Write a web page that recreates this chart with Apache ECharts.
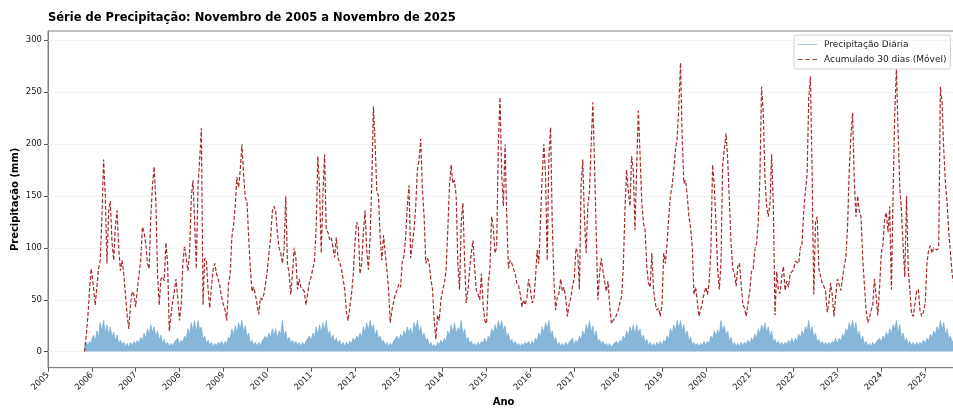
<!DOCTYPE html>
<html><head><meta charset="utf-8">
<script src="https://cdn.jsdelivr.net/npm/echarts@6/dist/echarts.min.js"></script>
<style>html,body{margin:0;padding:0;background:#fff}#c{width:953px;height:409px}</style>
</head><body><div id="c"></div>
<script>
// 30-day rolling sum (mm), sampled every 14 days from the first date of each year's array
const acc2005 = [0,15,34,60,80];
const acc2006 = [75,62,45,62,80,88,130,185,150,85,135,145,105,88,120,136,100,78,88,75,55,35,22,45,58,55];
const acc2007 = [43,60,74,88,120,115,104,85,80,130,160,178,145,75,45,70,72,68,105,85,20,35,48,58,70,52];
const acc2008 = [30,45,85,102,90,78,95,148,165,125,80,160,185,215,45,90,88,60,42,62,79,85,75,70,63,53];
const acc2009 = [45,40,30,65,75,110,122,140,168,158,175,200,170,148,145,110,80,58,62,55,54,36,52,50,55,65];
const acc2010 = [78,95,110,135,140,136,115,100,95,85,100,150,85,75,55,75,100,90,60,70,62,60,58,45,56,66];
const acc2011 = [72,80,87,120,188,158,95,150,190,117,115,108,110,100,91,110,90,86,80,70,60,38,30,30,55,72];
const acc2012 = [105,125,120,75,85,115,136,98,79,110,162,236,200,155,150,110,88,112,95,79,60,28,40,48,55,59];
const acc2013 = [65,62,87,92,110,140,160,90,90,117,140,175,185,205,155,130,85,90,85,70,60,30,12,35,30,50];
const acc2014 = [60,66,79,117,160,180,162,165,150,85,60,125,143,88,47,59,79,95,107,80,59,55,50,75,45,30];
const acc2015 = [27,66,80,130,120,95,100,200,245,170,140,200,130,80,88,85,80,75,66,64,56,43,50,45,52,70];
const acc2016 = [60,47,50,70,98,85,85,168,200,171,88,188,216,124,68,40,53,56,70,58,62,52,34,45,52,62];
const acc2017 = [72,100,95,60,160,185,128,95,140,155,200,240,180,115,50,75,90,78,68,58,68,45,27,30,32,35];
const acc2018 = [40,47,53,79,135,175,155,140,188,175,117,180,232,190,145,124,117,82,66,62,95,60,47,40,42,34];
const acc2019 = [45,95,85,104,130,150,160,175,195,205,236,278,205,162,165,150,130,120,100,55,62,48,34,33,47,56];
const acc2020 = [62,55,68,98,180,160,124,80,60,85,180,195,210,185,145,104,80,75,63,82,85,66,45,42,34,35];
const acc2021 = [59,77,79,98,104,124,168,255,230,168,140,130,143,190,140,35,77,60,56,72,82,59,68,62,75,75];
const acc2022 = [79,87,88,85,100,104,135,155,171,245,265,170,55,125,130,80,80,66,63,58,38,47,66,54,34,53];
const acc2023 = [70,70,59,60,82,91,120,175,207,230,165,130,150,135,130,90,65,40,28,32,40,45,70,53,35,60];
const acc2024 = [95,104,128,134,115,140,60,150,230,272,210,158,135,101,72,150,80,59,36,34,34,58,60,40,34,38];
const acc2025 = [47,85,98,102,95,100,100,98,100,255,240,195,162,143,115,95,75,65,55,45,50,60];

// daily precipitation (mm), highest daily value read in each 14-day window
const daily2005 = [4,9,6,10,8];
const daily2006 = [12,16,10,20,14,28,20,30,18,26,16,24,14,19,10,16,8,11,7,9,5,8,4,9,6,10];
const daily2007 = [7,11,8,14,10,18,13,22,16,26,18,24,14,20,11,16,8,12,6,9,5,8,6,9,8,13];
const daily2008 = [7,11,9,15,12,22,16,28,20,30,18,30,20,24,12,15,8,11,6,9,5,8,6,9,7,10];
const daily2009 = [6,10,8,14,12,22,16,25,18,28,22,30,18,25,14,18,8,11,6,9,5,9,6,10,9,15];
const daily2010 = [12,18,14,22,15,22,13,20,17,30,15,20,10,14,8,11,7,10,6,9,5,9,6,10,9,15];
const daily2011 = [11,18,14,24,16,26,18,28,20,30,16,20,12,16,9,13,8,11,6,9,5,9,6,10,8,13];
const daily2012 = [10,15,12,18,14,24,18,28,20,30,22,26,15,21,12,15,9,11,6,9,5,8,6,10,9,15];
const daily2013 = [11,17,13,20,16,24,18,23,15,28,22,30,18,24,14,18,10,13,6,9,5,7,4,9,7,11];
const daily2014 = [8,13,10,20,15,26,18,28,17,23,20,30,16,22,11,14,8,10,6,8,5,9,6,10,8,13];
const daily2015 = [8,15,12,22,17,26,20,30,22,30,20,25,14,18,9,12,7,10,6,8,5,8,6,9,7,10];
const daily2016 = [6,10,7,13,10,18,14,24,18,28,22,30,16,20,10,14,6,9,5,8,5,9,6,9,8,13];
const daily2017 = [7,11,8,15,11,20,15,26,20,30,18,25,14,20,9,12,7,10,6,8,5,8,4,7,6,10];
const daily2018 = [7,11,9,15,12,20,15,24,18,26,16,26,18,22,12,16,9,12,6,9,5,8,5,9,6,10];
const daily2019 = [6,11,9,15,12,22,17,26,20,30,22,30,20,26,15,20,10,14,7,9,6,8,5,8,6,10];
const daily2020 = [6,10,8,15,12,20,15,21,16,30,20,25,15,20,10,14,6,9,5,8,5,9,6,9,7,11];
const daily2021 = [8,13,10,17,13,22,17,26,20,28,18,24,14,20,9,12,7,10,6,9,6,9,7,11,8,13];
const daily2022 = [8,13,10,17,13,20,16,24,20,30,18,24,13,18,9,12,7,10,6,9,6,9,7,10,8,13];
const daily2023 = [8,13,10,17,13,22,19,28,22,30,20,28,15,20,10,15,7,10,5,8,5,9,6,9,8,13];
const daily2024 = [9,15,12,19,14,22,17,26,22,30,18,26,13,18,9,13,7,10,6,9,5,9,6,9,7,11];
const daily2025 = [8,13,10,17,13,20,16,24,19,30,21,28,16,22,12,15,9,12,7,9,6,10];

const years = [2005,2006,2007,2008,2009,2010,2011,2012,2013,2014,2015,2016,2017,2018,2019,2020,2021,2022,2023,2024,2025];
const accByYear = [acc2005,acc2006,acc2007,acc2008,acc2009,acc2010,acc2011,acc2012,acc2013,acc2014,acc2015,acc2016,acc2017,acc2018,acc2019,acc2020,acc2021,acc2022,acc2023,acc2024,acc2025];
const dailyByYear = [daily2005,daily2006,daily2007,daily2008,daily2009,daily2010,daily2011,daily2012,daily2013,daily2014,daily2015,daily2016,daily2017,daily2018,daily2019,daily2020,daily2021,daily2022,daily2023,daily2024,daily2025];
const yTicks = [0,50,100,150,200,250,300];
const xTickYears = [2005,2006,2007,2008,2009,2010,2011,2012,2013,2014,2015,2016,2017,2018,2019,2020,2021,2022,2023,2024,2025];

const DAY = 86400000, STEP = 14;
function toSeries(arrs) {
  const out = [];
  arrs.forEach((arr, i) => {
    const y = years[i];
    const start = y === 2005 ? Date.UTC(2005, 10, 1) : Date.UTC(y, 0, 1);
    arr.forEach((v, k) => out.push([start + k * STEP * DAY, v]));
  });
  return out;
}
const accData = toSeries(accByYear);
const dailyData = toSeries(dailyByYear);
const xTickValues = xTickYears.map(y => Date.UTC(y, 0, 1));

const FONT = 'DejaVu Sans';
const BLUE_ICON = 'path://M0,0H20V1H0Z';
const DASH_ICON = 'path://M0,0H4.5V1H0Z M7,0H11.5V1H7Z M14,0H18.5V1H14Z';
const chart = echarts.init(document.getElementById('c'), null, {renderer: 'canvas'});
chart.setOption({
  animation: false,
  backgroundColor: '#fff',
  title: {
    text: 'Série de Precipitação: Novembro de 2005 a Novembro de 2025',
    left: 48, top: 12, padding: 0,
    textStyle: {fontFamily: FONT, fontWeight: 'bold', fontSize: 11.5, color: '#000'}
  },
  legend: {
    orient: 'vertical', left: 794, top: 35,
    backgroundColor: 'rgba(255,255,255,0.85)', borderColor: '#d0d0d0', borderWidth: 1, borderRadius: 3,
    padding: [4, 4, 4, 4], itemWidth: 19, itemHeight: 1.2, itemGap: 4,
    textStyle: {fontFamily: FONT, fontSize: 9, color: '#222', lineHeight: 11, padding: [0, 0, 0, 2]},
    data: [
      {name: 'Precipitação Diária', icon: BLUE_ICON, itemStyle: {color: '#a3c6e3'}},
      {name: 'Acumulado 30 dias (Móvel)', icon: DASH_ICON, itemStyle: {color: '#b04444'}}
    ]
  },
  grid: {left: 48, top: 31, width: 911, height: 336.7, show: true, borderColor: '#808080', borderWidth: 1,
         outerBoundsMode: 'none', containLabel: false},
  xAxis: {
    type: 'value',
    min: Date.UTC(2005, 0, 1), max: Date.UTC(2025, 9, 9),
    name: 'Ano', nameLocation: 'middle', nameGap: 30, nameMoveOverlap: false,
    nameTextStyle: {fontFamily: FONT, fontWeight: 'bold', fontSize: 10, color: '#000'},
    axisLine: {onZero: false, lineStyle: {color: '#808080', width: 1}},
    axisTick: {show: true, length: 4, lineStyle: {color: '#555'}, customValues: xTickValues},
    axisLabel: {
      customValues: xTickValues,
      formatter: v => String(new Date(v).getUTCFullYear()),
      rotate: 45, margin: 6, fontFamily: FONT, fontSize: 8.5, color: '#222'
    },
    splitLine: {show: false}
  },
  yAxis: {
    type: 'value', min: -15.4, max: 308.7,
    name: 'Precipitação (mm)', nameLocation: 'middle', nameGap: 28, nameRotate: 90, nameMoveOverlap: false,
    nameTextStyle: {fontFamily: FONT, fontWeight: 'bold', fontSize: 10, color: '#000'},
    axisLine: {show: true, lineStyle: {color: '#808080', width: 1}},
    axisTick: {show: true, length: 4, lineStyle: {color: '#555'}, customValues: yTicks},
    axisLabel: {customValues: yTicks, margin: 6, fontFamily: FONT, fontSize: 8.5, color: '#222'},
    splitLine: {show: false}
  },
  series: [
    {
      name: 'Precipitação Diária', type: 'line', data: dailyData,
      showSymbol: false, symbol: 'none', z: 2,
      lineStyle: {color: '#79acd2', width: 0.7},
      itemStyle: {color: '#79acd2'},
      areaStyle: {color: '#86b6d9', opacity: 1, origin: 0},
      markLine: {
        silent: true, symbol: ['none', 'none'], label: {show: false},
        lineStyle: {color: '#e6e6e6', type: 'dotted', width: 0.8},
        data: yTicks.map(v => ({yAxis: v}))
      }
    },
    {
      name: 'Acumulado 30 dias (Móvel)', type: 'line', data: accData,
      showSymbol: false, symbol: 'none', z: 3,
      lineStyle: {color: '#a52a2a', width: 1.2, type: [4, 2]},
      itemStyle: {color: '#a52a2a'}
    }
  ]
});
</script>
</body></html>
